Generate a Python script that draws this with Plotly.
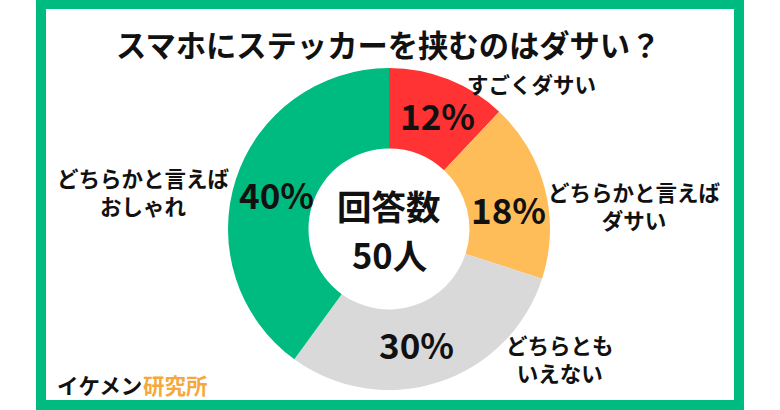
import plotly.graph_objects as go

title = 'スマホにステッカーを挟むのはダサい？'
labels = ['すごくダサい', 'どちらかと言えば<br>ダサい', 'どちらとも<br>いえない', 'どちらかと言えば<br>おしゃれ']
values = [12, 18, 30, 40]
colors = ['#ff3333', '#ffbd59', '#d9d9d9', '#00bb80']
pct_text = ['12%', '18%', '30%', '40%']
W = 780
H = 410
font_jp = 'Noto Sans CJK JP'

fig = go.Figure()

fig.add_trace(go.Pie(
    values=values,
    labels=labels,
    textinfo='none',
    marker=dict(colors=colors, line=dict(width=0)),
    hole=0.5,
    sort=False,
    direction='clockwise',
    rotation=0,
    showlegend=False,
    domain=dict(x=[228 / W, 550 / W], y=[1 - 390 / H, 1 - 68 / H]),
))


def add_text(x, y, text, size, color='#111111', weight=700):
    fig.add_annotation(
        x=x / W, y=1 - y / H, xref='paper', yref='paper',
        xanchor='center', yanchor='middle',
        text=text, showarrow=False, align='center',
        font=dict(family=font_jp, size=size, color=color, weight=weight),
    )


add_text(388, 44, title, 30.3)
add_text(531, 84, labels[0], 21.5)
add_text(634, 205, labels[1], 21.5)
add_text(560, 358, labels[2], 21.5)
add_text(143, 191, labels[3], 21.5)
add_text(389, 205, '回答数', 34.5)
add_text(389, 254, '50人', 34.5)
add_text(100, 384, 'イケメン', 21.5)
add_text(175, 384, '研究所', 21.5, color='#f5a83c')

# percent labels sit at hand placed spots in the original
add_text(437, 114, pct_text[0], 35)
add_text(508, 208, pct_text[1], 35)
add_text(416, 343, pct_text[2], 35)
add_text(276, 193, pct_text[3], 35)

fig.update_layout(
    width=W,
    height=H,
    margin=dict(l=0, r=0, t=0, b=0),
    paper_bgcolor='white',
    plot_bgcolor='white',
    shapes=[dict(
        type='rect', xref='paper', yref='paper',
        x0=41 / W, x1=739 / W, y0=5 / H, y1=1 - 4 / H,
        line=dict(color='#00bb80', width=10), fillcolor='rgba(0,0,0,0)',
    )],
)

# the page body has a default margin which would shift everything
fig.write_html("out.html", config={'displayModeBar': False},
               post_script="document.body.style.margin='0';")
